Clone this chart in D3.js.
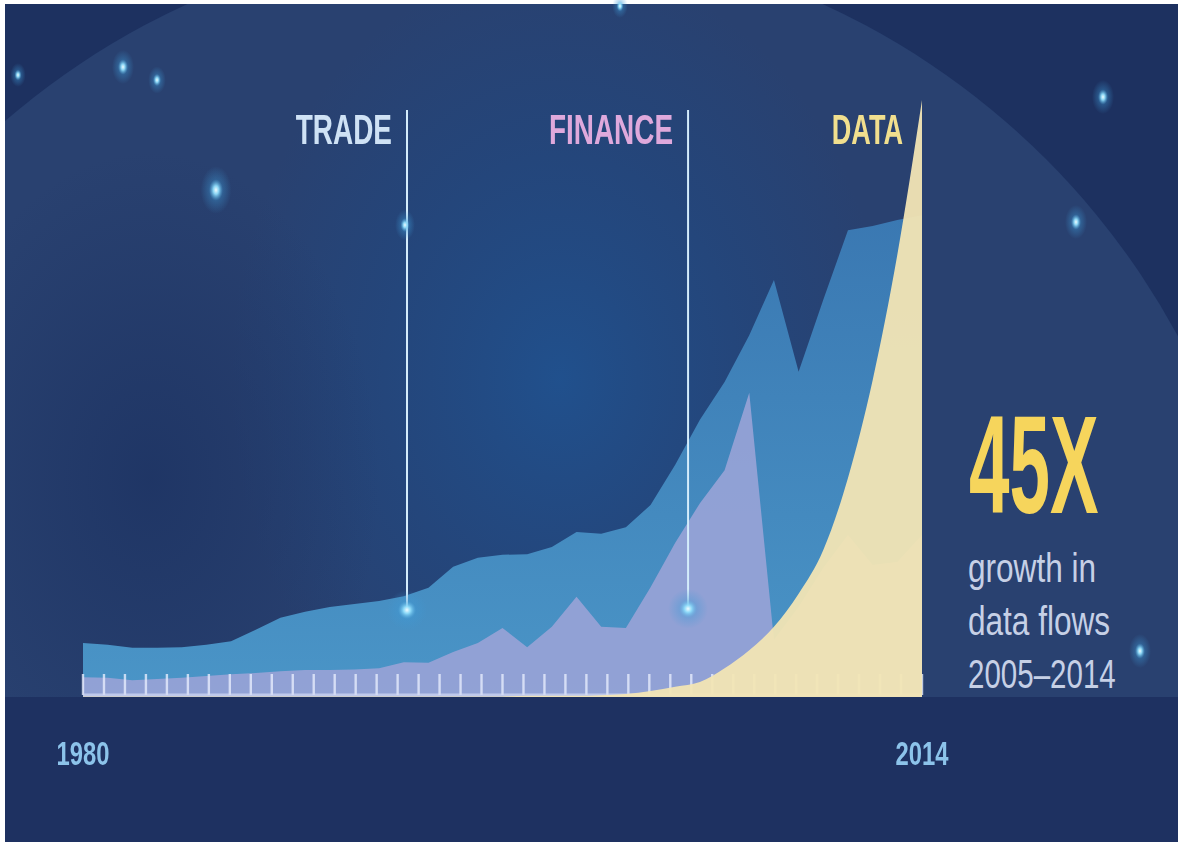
<!DOCTYPE html>
<html>
<head>
<meta charset="utf-8">
<title>Trade, finance and data flows</title>
<script src="https://d3js.org/d3.v7.min.js"></script>
<style>
  body { margin: 0; background: #fff; }
  svg { display: block; }
  .lbl { font-family: "Liberation Sans", Arial, sans-serif; font-weight: bold; }
  .note { font-family: "Liberation Sans", Arial, sans-serif; }
</style>
</head>
<body>
<div id="chart"></div>
<script>
// years on the axis
var years = [1980, 1981, 1982, 1983, 1984, 1985, 1986, 1987, 1988, 1989,
             1990, 1991, 1992, 1993, 1994, 1995, 1996, 1997, 1998, 1999,
             2000, 2001, 2002, 2003, 2004, 2005, 2006, 2007, 2008, 2009,
             2010, 2011, 2012, 2013, 2014];

// relative flow index (0-100)
var trade = [9.0, 8.7, 8.2, 8.2, 8.3, 8.7, 9.3, 11.2, 13.2, 14.2,
             15.0, 15.5, 16.0, 16.8, 18.2, 21.7, 23.2, 23.7, 23.8, 25.0,
             27.5, 27.2, 28.3, 32.0, 38.7, 46.2, 52.5, 60.3, 69.5, 54.2,
             66.2, 77.8, 78.5, 79.5, 80.3];
var finance = [3.3, 3.2, 2.8, 3.0, 3.2, 3.5, 3.8, 4.0, 4.3, 4.5,
               4.5, 4.6, 4.8, 5.8, 5.7, 7.5, 9.0, 11.5, 8.3, 11.7,
               16.7, 11.7, 11.5, 18.3, 25.7, 32.3, 37.8, 50.7, 9.5, 15.0,
               21.5, 27.0, 22.0, 22.5, 27.0];
var dataFlows = [0.1, 0.1, 0.1, 0.1, 0.1, 0.1, 0.1, 0.1, 0.1, 0.1,
                 0.1, 0.1, 0.1, 0.1, 0.1, 0.1, 0.1, 0.1, 0.2, 0.2,
                 0.2, 0.3, 0.5, 1.0, 1.7, 2.5, 4.8, 7.8, 11.7, 17.2,
                 24.5, 36.5, 52.8, 73.7, 99.5];

var axisLabels = ["1980", "2014"];
var tickCount = 40;   // small ruler ticks along the base

var markers = [
  {label: "TRADE",   year: 1993.13, dot: 14.5, color: "#cfe2f5"},
  {label: "FINANCE", year: 2004.52, dot: 14.7, color: "#dfa9dc"}
];
var dataLabel = {label: "DATA", color: "#f1df8e"};

var bigNumber = "45X";
var noteLines = ["growth in", "data flows", "2005\u20132014"];

// decoration stars (page pixels)
var stars = [
  {x: 18, y: 75, s: 0.7}, {x: 123, y: 67, s: 1}, {x: 157, y: 80, s: 0.8},
  {x: 216, y: 190, s: 1.4}, {x: 405, y: 225, s: 0.9}, {x: 620, y: 6, s: 0.7},
  {x: 1103, y: 97, s: 1}, {x: 1076, y: 222, s: 1}, {x: 1140, y: 651, s: 1}
];

var W = 1178, H = 842;
var svg = d3.select("#chart").append("svg")
    .attr("width", W)
    .attr("height", H);

var defs = svg.append("defs");

var bgGlow = defs.append("radialGradient").attr("id", "bgGlow");
bgGlow.append("stop").attr("offset", "0%").attr("stop-color", "#1f5392").attr("stop-opacity", 0.85);
bgGlow.append("stop").attr("offset", "60%").attr("stop-color", "#1f4a85").attr("stop-opacity", 0.45);
bgGlow.append("stop").attr("offset", "100%").attr("stop-color", "#1f4a85").attr("stop-opacity", 0);

var leftShade = defs.append("radialGradient").attr("id", "leftShade");
leftShade.append("stop").attr("offset", "0%").attr("stop-color", "#1b3161").attr("stop-opacity", 0.7);
leftShade.append("stop").attr("offset", "100%").attr("stop-color", "#1b3161").attr("stop-opacity", 0);

var starGlow = defs.append("radialGradient").attr("id", "starGlow");
starGlow.append("stop").attr("offset", "0%").attr("stop-color", "#f0fcff").attr("stop-opacity", 1);
starGlow.append("stop").attr("offset", "18%").attr("stop-color", "#8fdcfa").attr("stop-opacity", 0.95);
starGlow.append("stop").attr("offset", "45%").attr("stop-color", "#3f9ad6").attr("stop-opacity", 0.35);
starGlow.append("stop").attr("offset", "100%").attr("stop-color", "#3f9ad6").attr("stop-opacity", 0);

var tradeFill = defs.append("linearGradient").attr("id", "tradeFill")
    .attr("x1", 0).attr("y1", 0).attr("x2", 0).attr("y2", 1);
tradeFill.append("stop").attr("offset", "0%").attr("stop-color", "#3a78b2");
tradeFill.append("stop").attr("offset", "100%").attr("stop-color", "#4a95c7");

var soft = defs.append("filter").attr("id", "soft")
    .attr("x", "-50%").attr("y", "-50%").attr("width", "200%").attr("height", "200%");
soft.append("feGaussianBlur").attr("stdDeviation", 0.6);

// background
svg.append("rect").attr("x", 5).attr("y", 4).attr("width", W - 5).attr("height", H - 4)
    .attr("fill", "#1d3160");

var bgClip = defs.append("clipPath").attr("id", "bgClip");
bgClip.append("rect").attr("x", 5).attr("y", 4).attr("width", W - 5).attr("height", H - 4);

var bg = svg.append("g").attr("clip-path", "url(#bgClip)");
bg.append("circle").attr("cx", 505).attr("cy", 700).attr("r", 765).attr("fill", "#294170");
bg.append("ellipse").attr("cx", 560).attr("cy", 380).attr("rx", 330).attr("ry", 420)
    .attr("fill", "url(#bgGlow)");
bg.append("ellipse").attr("cx", 150).attr("cy", 480).attr("rx", 230).attr("ry", 330)
    .attr("fill", "url(#leftShade)");
bg.append("rect").attr("x", 5).attr("y", 697).attr("width", W).attr("height", H - 697)
    .attr("fill", "#1e3161");

// scales
var x = d3.scaleLinear().domain([1980, 2014]).range([83, 922]);
var y = d3.scaleLinear().domain([0, 100]).range([697, 97]);

function areaFor(values, curve) {
  return d3.area()
      .x(function(d, i) { return x(years[i]); })
      .y0(y(0))
      .y1(function(d) { return y(d); })
      .curve(curve)(values);
}

// condensed text: horizontal squeeze around the anchor point
function condensed(sel, px, py, k) {
  return sel.attr("transform", "translate(" + px + "," + py + ") scale(" + k + ",1)");
}

var plot = svg.append("g");

plot.append("path")
    .attr("d", areaFor(trade, d3.curveLinear))
    .attr("fill", "url(#tradeFill)");

plot.append("path")
    .attr("d", areaFor(finance, d3.curveLinear))
    .attr("fill", "#97a2d6")
    .attr("fill-opacity", 0.93);

// ruler ticks
var tickScale = d3.scaleLinear().domain([0, tickCount]).range(x.range());
plot.append("g").selectAll("line")
    .data(d3.range(tickCount + 1))
  .enter().append("line")
    .attr("x1", function(d) { return tickScale(d); })
    .attr("x2", function(d) { return tickScale(d); })
    .attr("y1", y(0) - 23)
    .attr("y2", y(0) - 2)
    .attr("stroke", "#e6ecfd")
    .attr("stroke-opacity", 0.8)
    .attr("stroke-width", 2.4);

plot.append("line")
    .attr("x1", x(1980)).attr("x2", x(2014))
    .attr("y1", y(0) - 2).attr("y2", y(0) - 2)
    .attr("stroke", "#d3daf4").attr("stroke-opacity", 0.7).attr("stroke-width", 3);

plot.append("path")
    .attr("d", areaFor(dataFlows, d3.curveMonotoneX))
    .attr("fill", "#f2e5b4")
    .attr("fill-opacity", 0.95);

// marker lines
markers.forEach(function(m) {
  var mx = x(m.year);
  svg.append("line")
      .attr("x1", mx).attr("x2", mx)
      .attr("y1", 110).attr("y2", y(m.dot))
      .attr("stroke", "#d4ecfb").attr("stroke-width", 2);
  svg.append("circle").attr("cx", mx).attr("cy", y(m.dot)).attr("r", 20)
      .attr("fill", "url(#starGlow)");
  condensed(svg.append("text").attr("class", "lbl"), mx - 15, 144, 0.65)
      .attr("text-anchor", "end")
      .attr("font-size", 43)
      .attr("fill", m.color)
      .attr("filter", "url(#soft)")
      .text(m.label);
});

condensed(svg.append("text").attr("class", "lbl"), x(2014) - 19, 144, 0.63)
    .attr("text-anchor", "end")
    .attr("font-size", 43)
    .attr("fill", dataLabel.color)
    .attr("filter", "url(#soft)")
    .text(dataLabel.label);

// stars
svg.append("g").selectAll("ellipse")
    .data(stars)
  .enter().append("ellipse")
    .attr("cx", function(d) { return d.x; })
    .attr("cy", function(d) { return d.y; })
    .attr("rx", function(d) { return 11 * d.s; })
    .attr("ry", function(d) { return 17 * d.s; })
    .attr("fill", "url(#starGlow)");

// axis end labels
svg.append("g").selectAll("text")
    .data(axisLabels)
  .enter().append("text").attr("class", "lbl")
    .attr("transform", function(d) { return "translate(" + x(+d) + ",765) scale(0.7,1)"; })
    .attr("text-anchor", "middle")
    .attr("font-size", 34)
    .attr("fill", "#8cc3ea")
    .attr("filter", "url(#soft)")
    .text(function(d) { return d; });

// callout on the right
condensed(svg.append("text").attr("class", "lbl"), 969, 513, 0.52)
    .attr("font-size", 140)
    .attr("fill", "#f6d55c")
    .text(bigNumber);

svg.append("g").selectAll("text")
    .data(noteLines)
  .enter().append("text").attr("class", "note")
    .attr("transform", function(d, i) {
      var k = i === 2 ? 0.72 : 0.77;
      return "translate(968," + (582 + i * 53) + ") scale(" + k + ",1)";
    })
    .attr("font-size", 41)
    .attr("fill", "#c6d0e6")
    .text(function(d) { return d; });
</script>
</body>
</html>
